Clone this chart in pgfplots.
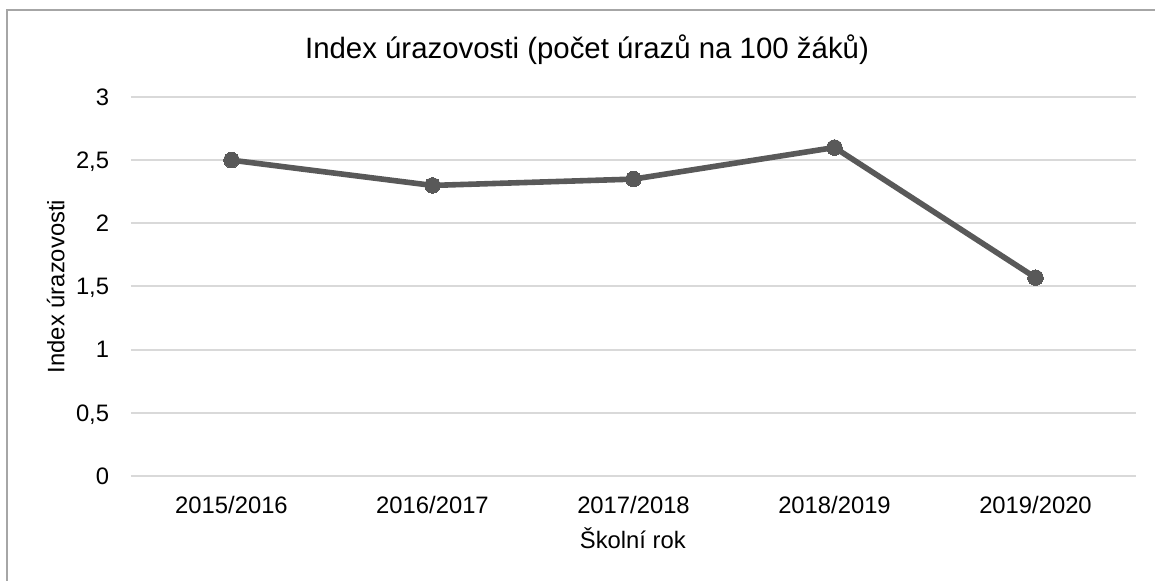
\documentclass[border=0pt]{standalone}
\usepackage{fontspec}
\setmainfont{Liberation Sans}
\usepackage{pgfplots}
\pgfplotsset{compat=1.18}
\definecolor{LineGray}{HTML}{595959}
\definecolor{GridGray}{HTML}{D9D9D9}
\definecolor{FrameGray}{HTML}{A6A6A6}

\begin{document}
\begin{tikzpicture}
\useasboundingbox (-65.5pt,-52.5pt) rectangle (512pt,238pt);
% chart frame (only left and top edges are inside the picture)
\draw[FrameGray,line width=1.2pt] (-62pt,-60pt) -- (-62pt,233pt) -- (520pt,233pt);
\begin{axis}[
  at={(0,0)},anchor=south west,
  scale only axis,width=502.5pt,height=189.5pt,
  xmin=-0.5,xmax=4.5,ymin=0,ymax=3,
  xtick={0,1,2,3,4},
  xticklabels={2015/2016,2016/2017,2017/2018,2018/2019,2019/2020},
  ytick={0,0.5,1,1.5,2,2.5,3},
  yticklabels={0,{0,5},1,{1,5},2,{2,5},3},
  axis line style={draw=none},
  tick style={draw=none},
  ymajorgrids,grid style={GridGray,line width=1pt},
  tick label style={font=\fontsize{11.9pt}{14pt}\selectfont,inner sep=0pt,text depth=0pt},
  xticklabel style={anchor=base,yshift=-18.65pt},
  yticklabel style={anchor=east,xshift=-10.75pt},
  clip=false]
\addplot[LineGray,line width=2.8pt,mark=*,mark size=3.9pt,mark options={fill=LineGray,draw=LineGray,line width=0pt}]
  coordinates {(0,2.5) (1,2.3) (2,2.35) (3,2.6) (4,1.57)};
\end{axis}
\node[anchor=base,inner sep=0pt,font=\fontsize{14.7pt}{17pt}\selectfont] at (228pt,208.85pt)
  {Index úrazovosti (počet úrazů na 100 žáků)};
\node[anchor=base,inner sep=0pt,font=\fontsize{11.9pt}{14pt}\selectfont] at (250.9pt,-36.15pt) {Školní rok};
\node[anchor=base,rotate=90,inner sep=0pt,font=\fontsize{11.9pt}{14pt}\selectfont] at (-33.35pt,94.75pt) {Index úrazovosti};
\end{tikzpicture}
\end{document}
